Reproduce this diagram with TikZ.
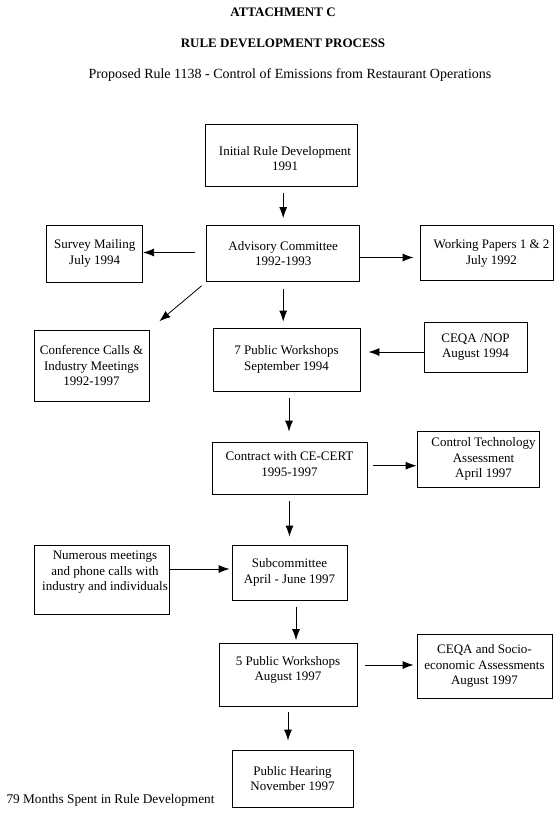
\documentclass[tikz,border=0pt]{standalone}
\usepackage{fontspec}
\setmainfont{Liberation Serif}
\usetikzlibrary{arrows.meta}
% move box text off centre: \nudge{right}{up}{lines}
\newcommand{\nudge}[3]{\hspace*{#1}\raisebox{#2}[\height][\depth]{\begin{tabular}{@{}c@{}}#3\end{tabular}}\hspace*{-#1}}

\begin{document}
\begin{tikzpicture}[x=1pt, y=-1pt,
    box/.style={draw, rectangle, line width=0.8pt, align=center, inner sep=1pt, font=\fontsize{13}{15.5}\selectfont},
    arr/.style={-{Latex[length=11pt,width=8pt]}, line width=0.8pt},
    heading/.style={font=\fontsize{13}{15}\selectfont\bfseries}]
    \useasboundingbox (0,0) rectangle (554,816);
    % titles
    \node [heading] (att) at (283,12) {ATTACHMENT C};
    \node [heading] (proc) at (283,43) {RULE DEVELOPMENT PROCESS};
    \node [font=\fontsize{14}{16}\selectfont] (rule) at (290,75) {Proposed Rule 1138 - Control of Emissions from Restaurant Operations};

    \node [box, minimum width=151.5pt, minimum height=62pt] (init) at (281.5,155) {\nudge{3.5pt}{-5pt}{Initial Rule Development \\ 1991}};
    \node [box, minimum width=153pt, minimum height=56pt] (adv) at (283.2,253.5) {Advisory Committee \\ 1992-1993};
    \node [box, minimum width=96pt, minimum height=57pt] (survey) at (94.7,253.5) {Survey Mailing \\ July 1994};
    \node [box, minimum width=133pt, minimum height=55pt] (papers) at (486.5,253.2) {\nudge{5pt}{0pt}{Working Papers 1 \& 2 \\ July 1992}};
    \node [box, minimum width=115pt, minimum height=71pt] (conf) at (91.5,365.5) {Conference Calls \& \\ Industry Meetings \\ 1992-1997};
    \node [box, minimum width=147pt, minimum height=63pt] (pw7) at (286.5,359.5) {7 Public Workshops \\ September 1994};
    \node [box, minimum width=103pt, minimum height=50pt] (nop) at (475.5,347) {CEQA /NOP \\ August 1994};
    \node [box, minimum width=155pt, minimum height=52pt] (cecert) at (289.5,468) {\nudge{0pt}{2.5pt}{Contract with CE-CERT \\ 1995-1997}};
    \node [box, minimum width=122pt, minimum height=56pt] (ctech) at (478,459) {\nudge{5.5pt}{0pt}{Control Technology \\ Assessment \\ April 1997}};
    \node [box, minimum width=135pt, minimum height=69pt] (numer) at (101.5,579.5) {\nudge{3.5pt}{7.5pt}{Numerous meetings \\ and phone calls with \\ industry and individuals}};
    \node [box, minimum width=115pt, minimum height=55pt] (sub) at (289.5,572.5) {Subcommittee \\ April - June 1997};
    \node [box, minimum width=138pt, minimum height=63pt] (pw5) at (288,675) {\nudge{0pt}{5pt}{5 Public Workshops \\ August 1997}};
    \node [box, minimum width=135pt, minimum height=64pt] (socio) at (484.5,666) {CEQA and Socio- \\ economic Assessments \\ August 1997};
    \node [box, minimum width=121pt, minimum height=57pt] (hear) at (292.5,778.5) {Public Hearing \\ November 1997};
    \node [anchor=west, font=\fontsize{13.3}{15}\selectfont] (months) at (3,800) {79 Months Spent in Rule Development};

    \draw [arr, shorten <=7pt, shorten >=7pt] (init.south -| adv.north) -- (adv.north);
    \draw [arr, shorten <=11pt, shorten >=0pt] ([yshift=1pt]adv.west) -- ([yshift=1pt]survey.east);
    \draw [arr, shorten >=6pt] ([yshift=-4pt]adv.east) -- ([yshift=-4pt]adv.east -| papers.west);
    \draw [arr, shorten <=6pt, shorten >=13pt] (adv.south west) -- (conf.north east);
    \draw [arr, shorten <=7pt, shorten >=6pt] (adv.south) -- (adv.south |- pw7.north);
    \draw [arr, shorten >=8pt] ([yshift=-5pt]nop.west) -- ([yshift=-5pt]nop.west -| pw7.east);
    \draw [arr, shorten <=7pt, shorten >=10pt] ([xshift=2.5pt]pw7.south) -- ([xshift=2.5pt]pw7.south |- cecert.north);
    \draw [arr, shorten <=6pt, shorten >=0pt] ([yshift=2.3pt]cecert.east) -- ([yshift=2.3pt]cecert.east -| ctech.west);
    \draw [arr, shorten <=7pt, shorten >=8pt] (cecert.south -| sub.north) -- (sub.north);
    \draw [arr, shorten >=2pt] ([yshift=10.5pt]numer.east) -- ([yshift=10.5pt]numer.east -| sub.west);
    \draw [arr, shorten <=7pt, shorten >=3pt] ([xshift=6.5pt]sub.south) -- ([xshift=6.5pt]sub.south |- pw5.north);
    \draw [arr, shorten <=8pt, shorten >=3pt] ([yshift=10pt]pw5.east) -- ([yshift=10pt]pw5.east -| socio.west);
    \draw [arr, shorten <=5pt, shorten >=9pt] (pw5.south) -- (pw5.south |- hear.north);
\end{tikzpicture}
\end{document}
